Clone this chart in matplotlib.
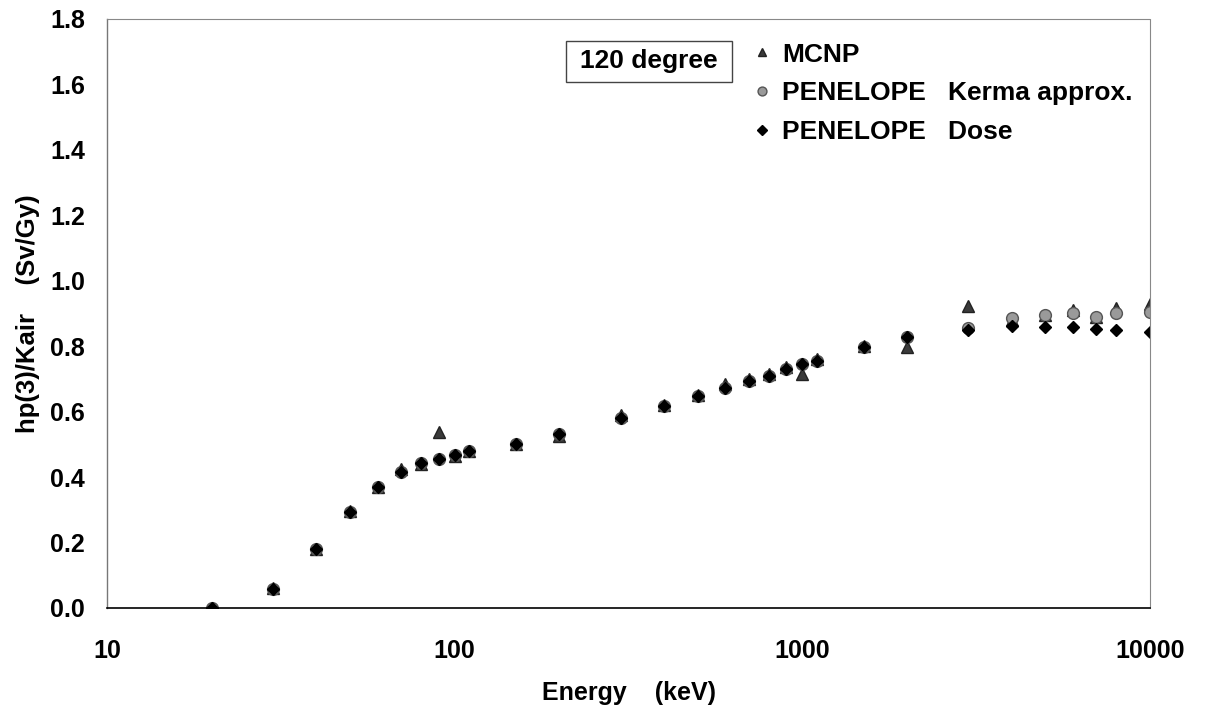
import matplotlib
matplotlib.use("Agg")
import matplotlib.pyplot as plt
from matplotlib.patches import Rectangle
from matplotlib.ticker import FixedLocator, FixedFormatter, MultipleLocator, FormatStrFormatter, NullLocator

plt.rcParams['font.family'] = ['Liberation Sans', 'DejaVu Sans']
plt.rcParams['font.weight'] = 'bold'

# photon energy (keV)
energy = [20, 30, 40, 50, 60, 70, 80, 90, 100, 110, 150, 200, 300, 400, 500,
          600, 700, 800, 900, 1000, 1100, 1500, 2000, 3000, 4000, 5000, 6000,
          7000, 8000, 10000]

mcnp = [0.0, 0.060, 0.180, 0.295, 0.370, 0.425, 0.440, 0.537, 0.465, 0.480,
        0.500, 0.527, 0.590, 0.620, 0.650, 0.685, 0.700, 0.715, 0.735, 0.715,
        0.760, 0.800, 0.797, 0.924, 0.880, 0.895, 0.910, 0.890, 0.917, 0.930]

kerma = [0.0, 0.057, 0.179, 0.293, 0.371, 0.417, 0.442, 0.456, 0.467, 0.480,
         0.501, 0.531, 0.580, 0.618, 0.647, 0.671, 0.694, 0.710, 0.730, 0.745,
         0.756, 0.798, 0.829, 0.855, 0.885, 0.895, 0.900, 0.890, 0.900, 0.905]

dose = [0.0, 0.057, 0.179, 0.293, 0.371, 0.417, 0.442, 0.456, 0.467, 0.480,
        0.501, 0.531, 0.580, 0.618, 0.647, 0.671, 0.694, 0.710, 0.730, 0.745,
        0.756, 0.798, 0.829, 0.850, 0.862, 0.858, 0.860, 0.852, 0.848, 0.842]

x_ticks = [10, 100, 1000, 10000]
x_labels = ["10", "100", "1000", "10000"]

fig = plt.figure(figsize=(12.05, 7.14), dpi=100)
ax = fig.add_axes([0.0888, 0.1485, 0.8656, 0.8249])

ax.plot(energy, mcnp, linestyle='none', marker='^', markersize=8.5,
        color='#3a3a3a', markeredgecolor='#222222', label='MCNP')
ax.plot(energy, kerma, linestyle='none', marker='o', markersize=8.5,
        color='#9a9a9a', markeredgecolor='#555555', label='PENELOPE   Kerma approx.')
ax.plot(energy, dose, linestyle='none', marker='D', markersize=6.5,
        color='black', label='PENELOPE   Dose')

ax.set_xscale('log')
ax.set_xlim(10, 10000)
ax.set_ylim(0, 1.8)
ax.xaxis.set_major_locator(FixedLocator(x_ticks))
ax.xaxis.set_major_formatter(FixedFormatter(x_labels))
ax.xaxis.set_minor_locator(NullLocator())
ax.yaxis.set_major_locator(MultipleLocator(0.2))
ax.yaxis.set_major_formatter(FormatStrFormatter('%.1f'))
ax.tick_params(axis='both', length=0, labelsize=18)
ax.tick_params(axis='x', pad=22)
ax.tick_params(axis='y', pad=16)

ax.spines['bottom'].set_color('black')
ax.spines['bottom'].set_linewidth(1.2)
ax.spines['left'].set_color('#777777')
ax.spines['left'].set_linewidth(1.0)
for s in ['top', 'right']:
    ax.spines[s].set_color('#888888')
    ax.spines[s].set_linestyle((0, (2, 1)))
    ax.spines[s].set_linewidth(0.8)

ax.set_xlabel('Energy    (keV)', fontsize=18, fontweight='bold', labelpad=13)
ax.set_ylabel('hp(3)/Kair    (Sv/Gy)', fontsize=18.5, fontweight='bold', labelpad=7)

# "120 degree" box
ax.add_patch(Rectangle((0.4396, 0.893), 0.1592, 0.0696, transform=ax.transAxes,
                       facecolor='white', edgecolor='#444444', linewidth=1.0))
ax.text(0.5192, 0.9168, '120 degree', transform=ax.transAxes, ha='center',
        va='baseline', fontsize=19, fontweight='bold')

ax.legend(loc='upper left', bbox_to_anchor=(0.618, 0.960), frameon=False,
          handlelength=0.8, handletextpad=0.36, labelspacing=0.56,
          borderpad=0, borderaxespad=0, markerscale=0.75,
          prop={'weight': 'bold', 'size': 19})

fig.savefig('out.png', dpi=100)
